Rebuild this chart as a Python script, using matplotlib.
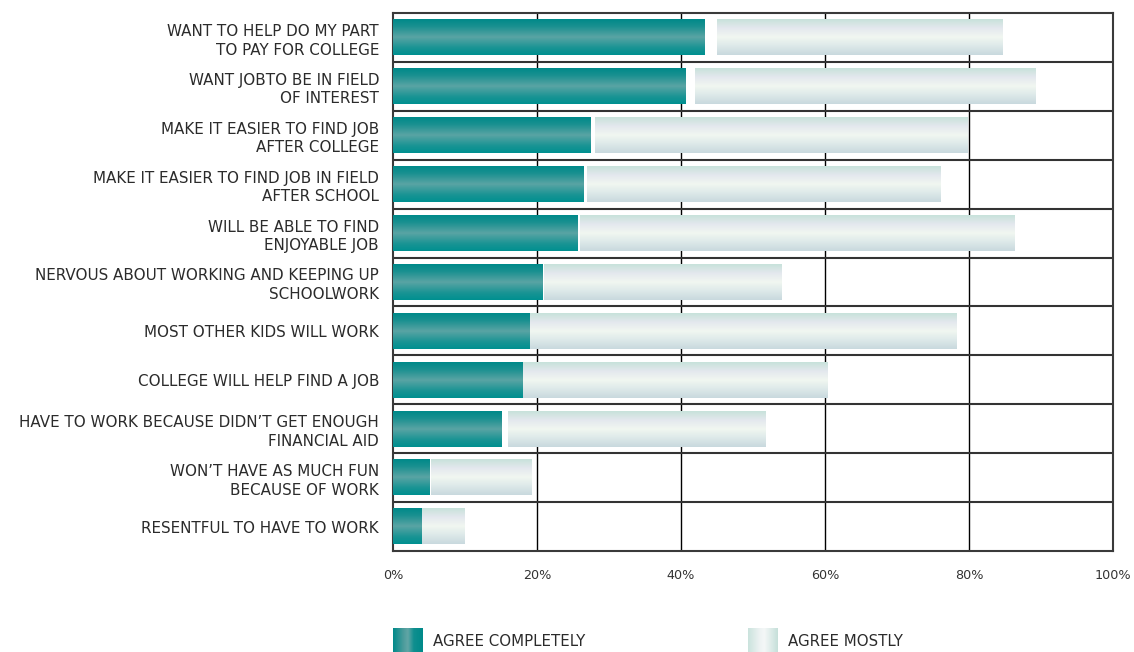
import numpy as np
import matplotlib
matplotlib.use('Agg')
import matplotlib.pyplot as plt
from matplotlib.colors import LinearSegmentedColormap

# data (percent)
labels = [
    'WANT TO HELP DO MY PART\nTO PAY FOR COLLEGE',
    'WANT JOBTO BE IN FIELD\nOF INTEREST',
    'MAKE IT EASIER TO FIND JOB\nAFTER COLLEGE',
    'MAKE IT EASIER TO FIND JOB IN FIELD\nAFTER SCHOOL',
    'WILL BE ABLE TO FIND\nENJOYABLE JOB',
    'NERVOUS ABOUT WORKING AND KEEPING UP\nSCHOOLWORK',
    'MOST OTHER KIDS WILL WORK',
    'COLLEGE WILL HELP FIND A JOB',
    "HAVE TO WORK BECAUSE DIDN\u2019T GET ENOUGH\nFINANCIAL AID",
    "WON\u2019T HAVE AS MUCH FUN\nBECAUSE OF WORK",
    'RESENTFUL TO HAVE TO WORK',
]
agree_completely = [43.3, 40.6, 27.4, 26.5, 25.6, 20.8, 19.0, 18.1, 15.1, 5.1, 3.9]
gap = [1.7, 1.3, 0.7, 0.4, 0.4, 0.2, 0.0, 0.0, 0.9, 0.2, 0.1]
agree_mostly = [39.6, 47.3, 51.8, 49.1, 60.3, 33.0, 59.3, 42.3, 35.8, 13.9, 5.9]
xticks = [0, 20, 40, 60, 80, 100]
legend_names = ['AGREE COMPLETELY', 'AGREE MOSTLY']

teal_cmap = LinearSegmentedColormap.from_list('teal', [
    (0.0, '#008a8a'), (0.2, '#1a9090'), (0.5, '#5aa4a4'), (0.8, '#1a9494'), (1.0, '#009090')])
light_cmap = LinearSegmentedColormap.from_list('light', [
    (0.0, '#c8e2db'), (0.25, '#e4e8ee'), (0.5, '#f1f7f1'), (0.75, '#dde9e9'), (1.0, '#c9d9de')])

grad = np.linspace(0, 1, 64).reshape(-1, 1)

fig = plt.figure(figsize=(11.34, 6.52), dpi=100)
ax = fig.add_axes([393 / 1134, 1 - 551 / 652, 720 / 1134, 538 / 652])

n = len(labels)
y = np.arange(n)
start_mostly = np.array(agree_completely) + np.array(gap)

b1 = ax.barh(y, agree_completely, height=0.73, color='none', zorder=3)
b2 = ax.barh(y, agree_mostly, left=start_mostly, height=0.73, color='none', zorder=3)

for bars, cmap in [(b1, teal_cmap), (b2, light_cmap)]:
    for p in bars:
        x0, y0 = p.get_x(), p.get_y()
        w, h = p.get_width(), p.get_height()
        # y axis inverted: top of bar is y0
        ax.imshow(grad, cmap=cmap, aspect='auto', interpolation='bilinear',
                  extent=[x0, x0 + w, y0 + h, y0], zorder=3)

for v in xticks[1:-1]:
    ax.axvline(v, color='black', lw=1.0, zorder=1)
for k in range(1, n):
    ax.axhline(k - 0.5, color='#333333', lw=1.5, zorder=2)

ax.set_xlim(0, 100)
ax.set_ylim(n - 0.5, -0.5)
ax.set_yticks(y)
ax.set_yticklabels(labels, fontsize=10.9, color='#2b2b2b', linespacing=1.3)
ax.set_xticks(xticks)
ax.set_xticklabels([f'{v}%' for v in xticks], fontsize=9.2, color='#333333')
ax.tick_params(axis='both', length=0)
ax.tick_params(axis='y', pad=10)
ax.tick_params(axis='x', pad=13)
for s in ax.spines.values():
    s.set_color('#3a3a3a')
    s.set_linewidth(1.5)

# legend swatches with horizontal gradients
hgrad = np.linspace(0, 1, 64).reshape(1, -1)
sw_teal = LinearSegmentedColormap.from_list('swt', [
    (0.0, '#008a8a'), (0.35, '#4c9c9c'), (0.5, '#62a6a6'), (0.7, '#0f8f8f'), (1.0, '#008a8a')])
sw_light = LinearSegmentedColormap.from_list('swl', [
    (0.0, '#cbe3dd'), (0.4, '#eef3f3'), (0.55, '#f4f7f7'), (1.0, '#c6e0da')])
for x_px, cmap, name in [(393, sw_teal, legend_names[0]), (748, sw_light, legend_names[1])]:
    lax = fig.add_axes([x_px / 1134, 0, 30 / 1134, 24 / 652])
    lax.imshow(hgrad, cmap=cmap, aspect='auto', interpolation='bilinear')
    lax.axis('off')
    fig.text((x_px + 40) / 1134, 1 - 642 / 652, name, fontsize=10.8, color='#2b2b2b',
             va='center', ha='left')

fig.savefig('out.png', dpi=100)
